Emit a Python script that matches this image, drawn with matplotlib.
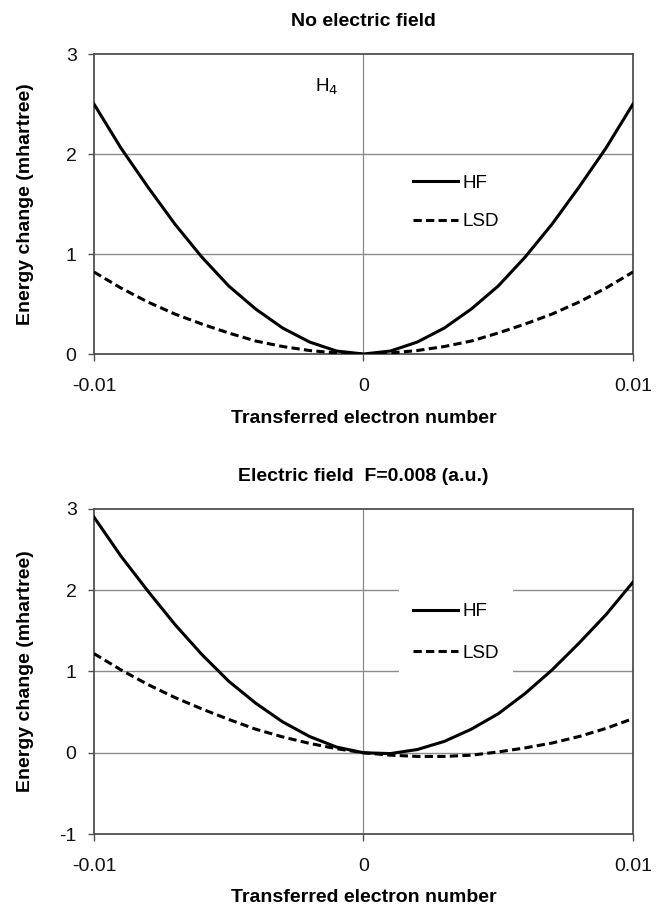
import matplotlib
matplotlib.use("Agg")
import matplotlib.pyplot as plt

plt.rcParams['font.family'] = ['Liberation Sans', 'DejaVu Sans']
plt.rcParams['axes.unicode_minus'] = False

# puntos de la curva (electrones transferidos)
x_vals = [-0.010, -0.009, -0.008, -0.007, -0.006, -0.005, -0.004, -0.003,
          -0.002, -0.001, 0.0, 0.001, 0.002, 0.003, 0.004, 0.005, 0.006,
          0.007, 0.008, 0.009, 0.010]

# sin campo eléctrico
hf_nofield = [2.50, 2.06, 1.67, 1.30, 0.97, 0.68, 0.45, 0.26, 0.12, 0.03, 0.0,
              0.03, 0.12, 0.26, 0.45, 0.68, 0.97, 1.30, 1.67, 2.06, 2.50]
lsd_nofield = [0.82, 0.66, 0.52, 0.40, 0.30, 0.21, 0.13, 0.075, 0.035, 0.01, 0.0,
               0.01, 0.035, 0.075, 0.13, 0.21, 0.30, 0.40, 0.52, 0.66, 0.82]

# campo F=0.008
hf_field = [2.90, 2.42, 1.99, 1.58, 1.21, 0.88, 0.61, 0.38, 0.20, 0.07, 0.0,
            -0.01, 0.04, 0.14, 0.29, 0.48, 0.73, 1.02, 1.35, 1.70, 2.10]
lsd_field = [1.22, 1.02, 0.84, 0.68, 0.54, 0.41, 0.29, 0.195, 0.115, 0.05, 0.0,
             -0.03, -0.045, -0.045, -0.03, 0.01, 0.06, 0.12, 0.20, 0.30, 0.42]

x_ticks = [-0.01, 0, 0.01]
x_ticklabels = ['-0.01', '0', '0.01']

GRID = '#8c8c8c'
SPINE = '#505050'

fig = plt.figure(figsize=(6.67, 9.11), dpi=100)
ax1 = fig.add_axes([0.1409, 0.6114, 0.8081, 0.3293])
ax2 = fig.add_axes([0.1409, 0.0845, 0.8081, 0.3568])


def style_axes(ax, ymin, ymax, title, leg_y, spacing):
    ax.set_xlim(-0.01, 0.01)
    ax.set_ylim(ymin, ymax)
    ax.set_yticks(range(ymin, ymax + 1))
    ax.set_xticks(x_ticks)
    ax.set_xticklabels(x_ticklabels)
    for y in range(ymin + 1, ymax):
        ax.axhline(y, color=GRID, lw=1.0, zorder=1)
    ax.axvline(0, color=GRID, lw=0.9, zorder=1)
    for s in ax.spines.values():
        s.set_color(SPINE)
        s.set_linewidth(1.3)
    ax.tick_params(axis='both', direction='out', color=SPINE, width=1.0,
                   labelsize=14, labelcolor='#111111')
    ax.tick_params(axis='x', length=5, pad=12)
    ax.tick_params(axis='y', length=4.5, pad=8)
    ax.set_title(title, fontsize=14, fontweight='bold', pad=20)
    ax.set_xlabel('Transferred electron number', fontsize=14, fontweight='bold')
    ax.set_ylabel('Energy change (mhartree)', fontsize=14, fontweight='bold')
    ax.yaxis.set_label_coords(-0.112, 0.5)
    leg = ax.legend(loc='center left', bbox_to_anchor=(0.548, leg_y),
                    fontsize=13.5, handlelength=2.4, handletextpad=0.25,
                    labelspacing=spacing, borderpad=0.75, frameon=True,
                    fancybox=False, framealpha=1.0)
    leg.get_frame().set_edgecolor('none')
    leg.get_frame().set_facecolor('white')
    leg.set_zorder(5)


ax1.plot(x_vals, hf_nofield, color='black', lw=2.2, label='HF', zorder=3)
ax1.plot(x_vals, lsd_nofield, color='black', lw=2.2, dashes=(2.7, 1.4),
         label='LSD', zorder=3)
style_axes(ax1, 0, 3, 'No electric field', 0.505, 1.12)
ax1.xaxis.set_label_coords(0.5, -0.185)
ax1.text(-0.00135, 2.67, 'H$_4$', fontsize=13.5, ha='center', va='center')

ax2.plot(x_vals, hf_field, color='black', lw=2.2, label='HF', zorder=3)
ax2.plot(x_vals, lsd_field, color='black', lw=2.2, dashes=(2.7, 1.4),
         label='LSD', zorder=3)
style_axes(ax2, -1, 3, 'Electric field  F=0.008 (a.u.)', 0.62, 1.3)
ax2.xaxis.set_label_coords(0.5, -0.168)

fig.savefig('out.png', dpi=100, facecolor='white')
